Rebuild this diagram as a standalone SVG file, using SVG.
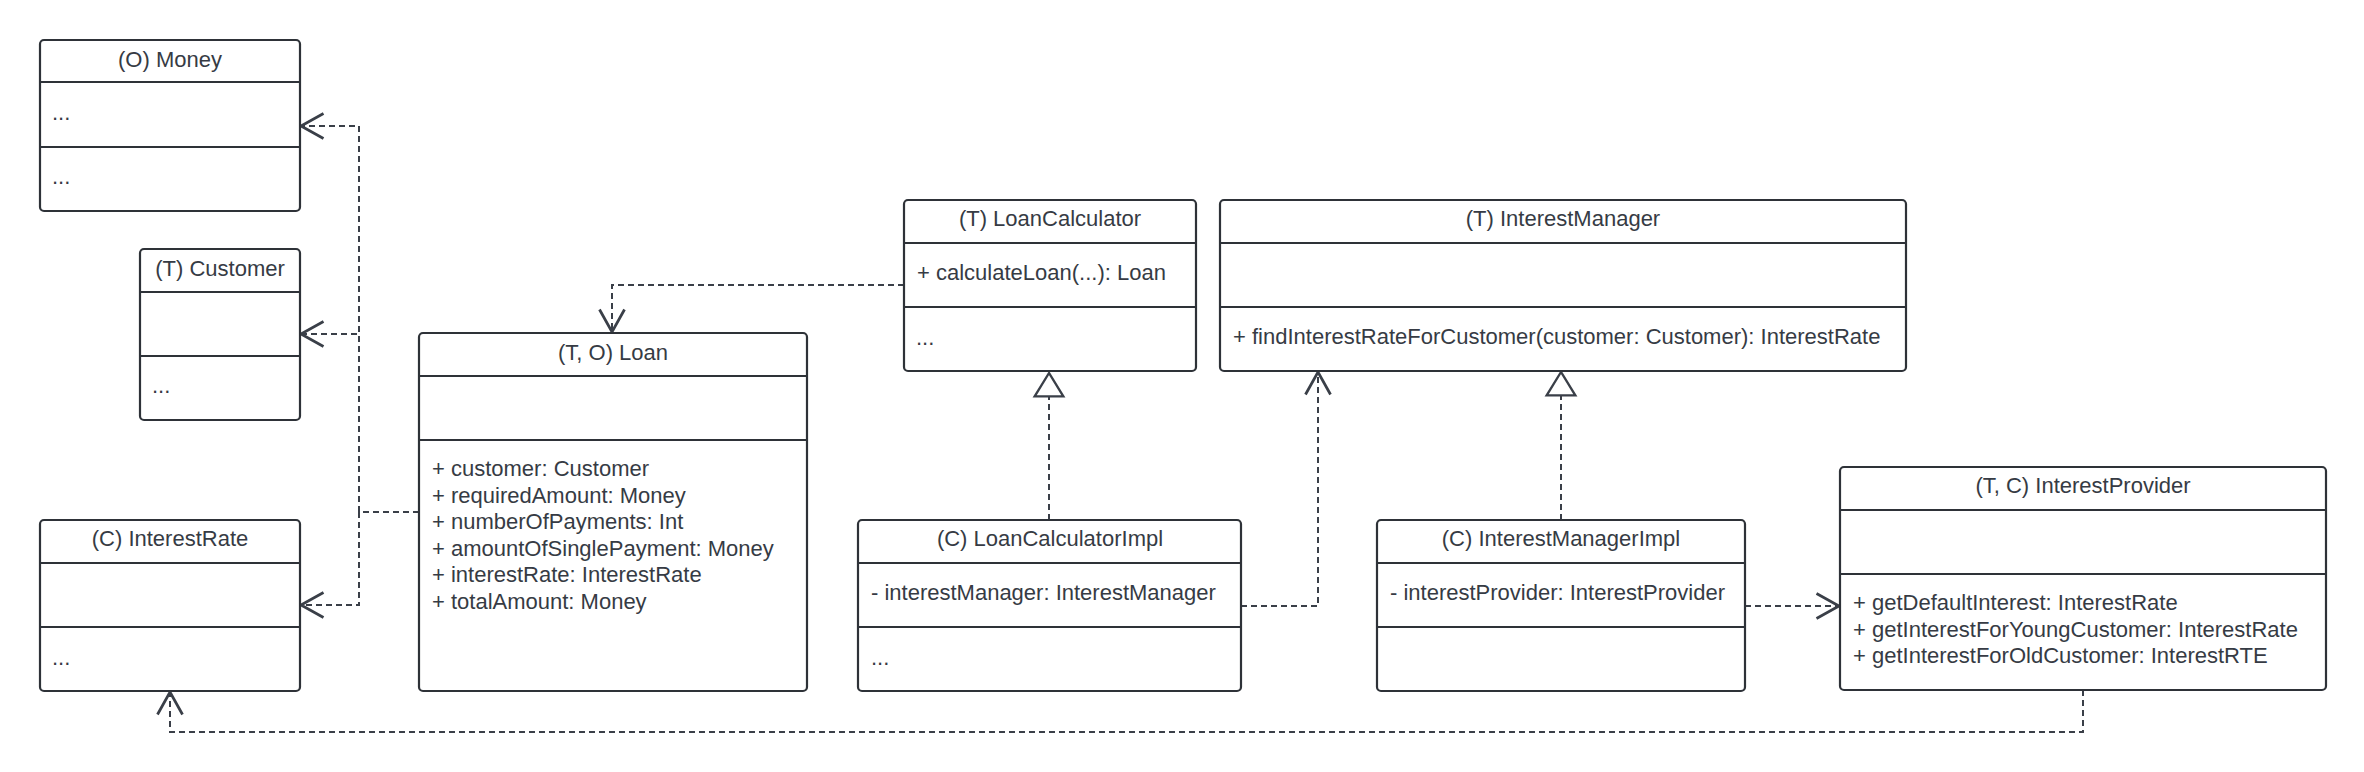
<svg xmlns="http://www.w3.org/2000/svg" width="2364" height="772" viewBox="0 0 2364 772">
<style>
.box{fill:#ffffff;stroke:#2e3238;stroke-width:2.2}
.div{stroke:#2e3238;stroke-width:2.2}
.t{font-family:"Liberation Sans",Arial,sans-serif;font-size:22px;fill:#363b44}
.c{text-anchor:middle}
.conn{fill:none;stroke:#3a3f48;stroke-width:2;stroke-dasharray:6 4}
</style>
<defs>
<marker id="open" markerUnits="userSpaceOnUse" markerWidth="30" markerHeight="30" viewBox="-20 -12 22 24" refX="0" refY="0" orient="auto">
<path d="M-18,-10 L0,0 L-18,10" fill="none" stroke="#3a3f48" stroke-width="2.2" stroke-dasharray="none"/>
</marker>
<marker id="tri" markerUnits="userSpaceOnUse" markerWidth="30" markerHeight="34" viewBox="-24 -16 26 32" refX="0" refY="0" orient="auto">
<path d="M0,0 L-22,-13.5 L-22,13.5 Z" fill="#ffffff" stroke="#3a3f48" stroke-width="2.2" stroke-dasharray="none"/>
</marker>
</defs>
<rect width="2364" height="772" fill="#ffffff"/>

<g id="connectors">
<path class="conn" d="M419,512 H359 V126 H301" marker-end="url(#open)"/>
<path class="conn" d="M419,512 H359 V334 H301" marker-end="url(#open)"/>
<path class="conn" d="M419,512 H359 V605 H301" marker-end="url(#open)"/>
<path class="conn" d="M904,285 H612 V332" marker-end="url(#open)"/>
<path class="conn" d="M1049,520 V373" marker-end="url(#tri)"/>
<path class="conn" d="M1241,606 H1318 V372" marker-end="url(#open)"/>
<path class="conn" d="M1561,520 V372" marker-end="url(#tri)"/>
<path class="conn" d="M1745,606 H1839" marker-end="url(#open)"/>
<path class="conn" d="M2083,690 V732 H170 V692" marker-end="url(#open)"/>
</g>

<g id="money">
<rect class="box" x="40" y="40" width="260" height="171" rx="4"/>
<line class="div" x1="40" y1="82" x2="300" y2="82"/>
<line class="div" x1="40" y1="147" x2="300" y2="147"/>
<text class="t c" x="170" y="67">(O) Money</text>
<text class="t" x="52" y="120">...</text>
<text class="t" x="52" y="184">...</text>
</g>

<g id="customer">
<rect class="box" x="140" y="249" width="160" height="171" rx="4"/>
<line class="div" x1="140" y1="292" x2="300" y2="292"/>
<line class="div" x1="140" y1="356" x2="300" y2="356"/>
<text class="t c" x="220" y="276">(T) Customer</text>
<text class="t" x="152" y="393">...</text>
</g>

<g id="interestRate">
<rect class="box" x="40" y="520" width="260" height="171" rx="4"/>
<line class="div" x1="40" y1="563" x2="300" y2="563"/>
<line class="div" x1="40" y1="627" x2="300" y2="627"/>
<text class="t c" x="170" y="546">(C) InterestRate</text>
<text class="t" x="52" y="665">...</text>
</g>

<g id="loan">
<rect class="box" x="419" y="333" width="388" height="358" rx="4"/>
<line class="div" x1="419" y1="376" x2="807" y2="376"/>
<line class="div" x1="419" y1="440" x2="807" y2="440"/>
<text class="t c" x="613" y="360">(T, O) Loan</text>
<text class="t" x="432" y="476">+ customer: Customer</text>
<text class="t" x="432" y="502.5">+ requiredAmount: Money</text>
<text class="t" x="432" y="529">+ numberOfPayments: Int</text>
<text class="t" x="432" y="555.5">+ amountOfSinglePayment: Money</text>
<text class="t" x="432" y="582">+ interestRate: InterestRate</text>
<text class="t" x="432" y="608.5">+ totalAmount: Money</text>
</g>

<g id="loanCalculator">
<rect class="box" x="904" y="200" width="292" height="171" rx="4"/>
<line class="div" x1="904" y1="243" x2="1196" y2="243"/>
<line class="div" x1="904" y1="307" x2="1196" y2="307"/>
<text class="t c" x="1050" y="226">(T) LoanCalculator</text>
<text class="t" x="917" y="280">+ calculateLoan(...): Loan</text>
<text class="t" x="916" y="345">...</text>
</g>

<g id="interestManager">
<rect class="box" x="1220" y="200" width="686" height="171" rx="4"/>
<line class="div" x1="1220" y1="243" x2="1906" y2="243"/>
<line class="div" x1="1220" y1="307" x2="1906" y2="307"/>
<text class="t c" x="1563" y="226">(T) InterestManager</text>
<text class="t" x="1233" y="344">+ findInterestRateForCustomer(customer: Customer): InterestRate</text>
</g>

<g id="loanCalculatorImpl">
<rect class="box" x="858" y="520" width="383" height="171" rx="4"/>
<line class="div" x1="858" y1="563" x2="1241" y2="563"/>
<line class="div" x1="858" y1="627" x2="1241" y2="627"/>
<text class="t c" x="1050" y="546">(C) LoanCalculatorImpl</text>
<text class="t" x="871" y="600">- interestManager: InterestManager</text>
<text class="t" x="871" y="665">...</text>
</g>

<g id="interestManagerImpl">
<rect class="box" x="1377" y="520" width="368" height="171" rx="4"/>
<line class="div" x1="1377" y1="563" x2="1745" y2="563"/>
<line class="div" x1="1377" y1="627" x2="1745" y2="627"/>
<text class="t c" x="1561" y="546">(C) InterestManagerImpl</text>
<text class="t" x="1390" y="600">- interestProvider: InterestProvider</text>
</g>

<g id="interestProvider">
<rect class="box" x="1840" y="467" width="486" height="223" rx="4"/>
<line class="div" x1="1840" y1="510" x2="2326" y2="510"/>
<line class="div" x1="1840" y1="574" x2="2326" y2="574"/>
<text class="t c" x="2083" y="493">(T, C) InterestProvider</text>
<text class="t" x="1853" y="610">+ getDefaultInterest: InterestRate</text>
<text class="t" x="1853" y="636.5">+ getInterestForYoungCustomer: InterestRate</text>
<text class="t" x="1853" y="663">+ getInterestForOldCustomer: InterestRTE</text>
</g>
</svg>
